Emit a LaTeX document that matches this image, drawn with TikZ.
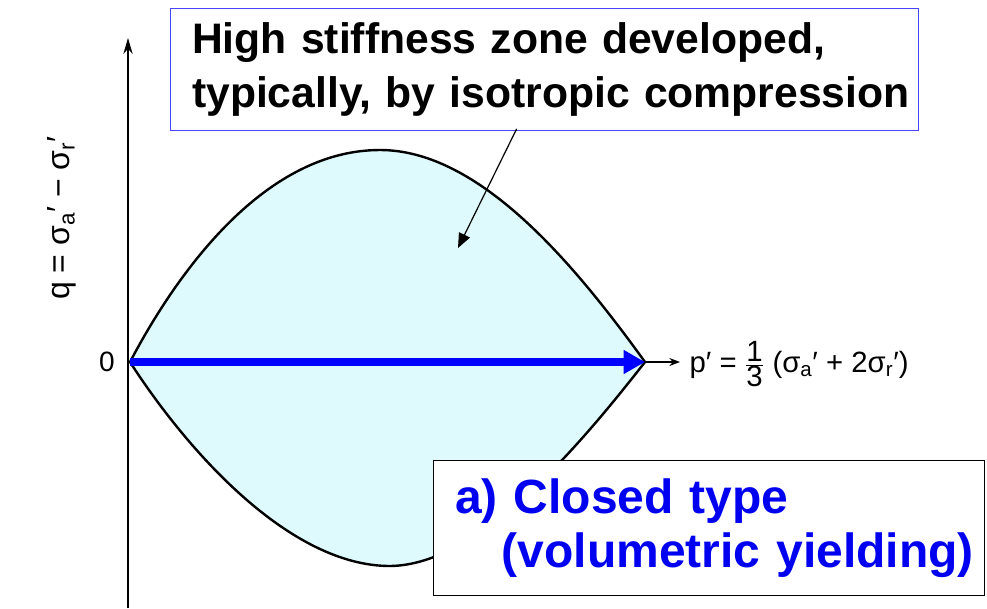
\documentclass[tikz,border=0pt]{standalone}
\usepackage{fontspec}
\setmainfont{Liberation Sans}
\usetikzlibrary{arrows.meta}
\definecolor{lensfill}{RGB}{222,250,252}
\definecolor{boxblue}{RGB}{70,70,255}
\definecolor{txtblue}{RGB}{0,0,240}
\tikzset{
  axisline/.style={line width=1.1pt, -{Stealth[length=12pt,width=7pt]}},
  lens/.style={draw=black, line width=1.8pt, fill=lensfill},
  loadpath/.style={draw=blue, line width=6pt, -{Triangle[length=16pt,width=17pt]}},
  thinarrow/.style={line width=1pt, -{Stealth[length=8pt,width=6pt]}},
  notebox/.style={draw=boxblue, line width=1.1pt, anchor=north west, align=left,
    inner xsep=1pt, text width=559pt, minimum height=91.5pt,
    font=\fontsize{32}{40.5}\selectfont\bfseries,
    execute at begin node={\leftskip=15pt\relax\hyphenpenalty=10000\relax}},
  typebox/.style={draw=black, fill=white, line width=1.1pt, anchor=north west, align=left,
    inner xsep=1pt, text width=411pt, minimum height=101pt, text=txtblue,
    font=\fontsize{36}{41}\selectfont\bfseries,
    execute at begin node={\leftskip=15pt\relax\hyphenpenalty=10000\relax}},
  pointer/.style={line width=0.9pt, -{Triangle[length=11pt,width=9pt]}}
}
\begin{document}
\begin{tikzpicture}[x=0.75pt,y=-0.75pt]
\useasboundingbox (0,0) rectangle (987,608);
\coordinate (O) at (130,362);
\coordinate (T) at (645,362);
\coordinate (Pend) at (680,362);
\coordinate (Ybot) at (128,608);
\coordinate (Ytop) at (128,38);
\coordinate (Ptip) at (458,248);
% lens
\path[lens] (O) .. controls (172,282) and (260,150) .. (380,150)
  .. controls (480,150) and (575,265) .. (T)
  .. controls (580,445) and (480,565) .. (390,566)
  .. controls (290,566) and (188,452) .. (O) -- cycle;
% axes
\draw[axisline] (Ybot) -- (Ytop);
\draw[loadpath] (O) -- (T);
\draw[thinarrow] (T) -- (Pend);
\node[anchor=west, font=\fontsize{22}{25}\selectfont, inner sep=1pt] (plabel) at (688,364)
  {p′ = $\frac{\textrm{1}}{\textrm{3}}$\;(σ\textsubscript{a}′ + 2σ\textsubscript{r}′)};
\node[font=\fontsize{21}{22}\selectfont] (zero) at (107,362) {0};
\node[rotate=90, font=\fontsize{24}{26}\selectfont] (qlabel) at (62,218)
  {q = σ\textsubscript{a}′ − σ\textsubscript{r}′};
% boxes
\node[notebox] (note) at (170,8)
  {High stiffness zone developed,\\typically, by isotropic compression};
\coordinate (Pstart) at ([xshift=260pt,yshift=2pt]note.south west);
\draw[pointer] (Pstart) -- (Ptip);
\node[typebox] (type) at (433,460)
  {a) Closed type\\\hspace*{35pt}(volumetric yielding)};
\end{tikzpicture}
\end{document}
